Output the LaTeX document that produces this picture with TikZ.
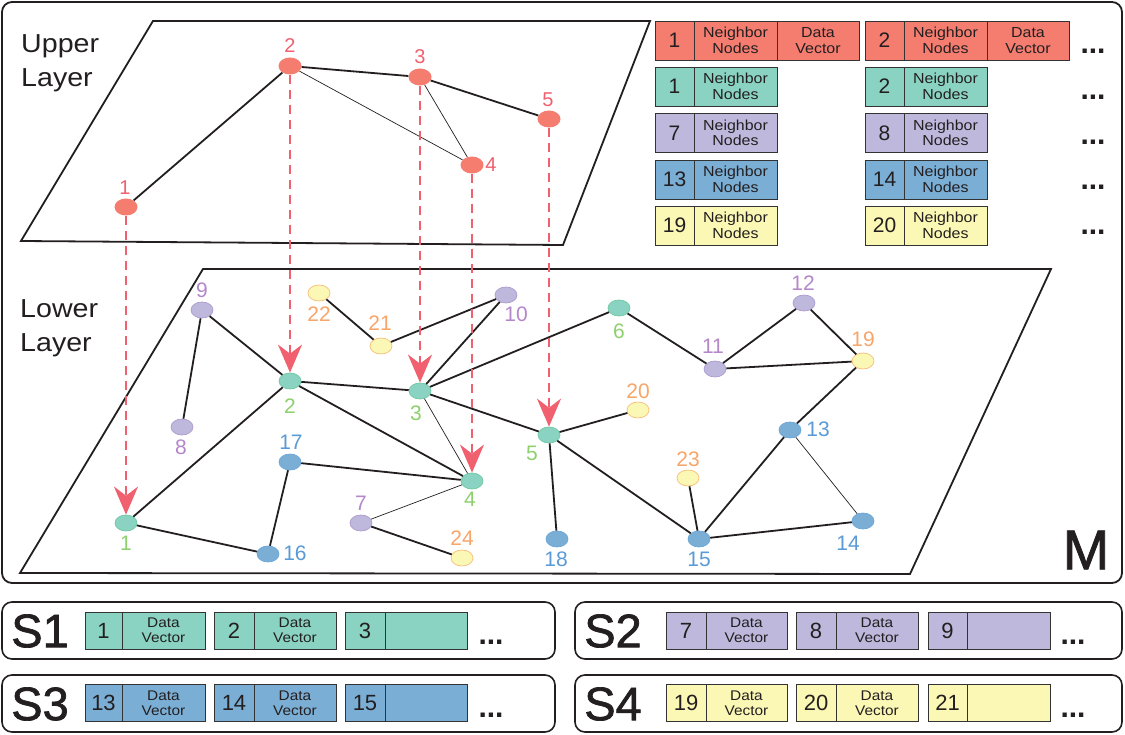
\documentclass[tikz,border=0pt]{standalone}
\usepackage{fontspec}
\setmainfont{Liberation Sans}
\newfontfamily\bigf{Liberation Sans}[FakeBold=1.5]
\newfontfamily\widef{Liberation Sans}[FakeStretch=1.1]
\usetikzlibrary{arrows.meta,shapes.geometric}
\definecolor{cred}{HTML}{F47D70}
\definecolor{cgreen}{HTML}{8AD3C2}
\definecolor{cpurple}{HTML}{BDB8DC}
\definecolor{cblue}{HTML}{7BAED5}
\definecolor{cyellow}{HTML}{FBF7B4}
\definecolor{ogreen}{HTML}{70C9A2}
\definecolor{opurple}{HTML}{AE9BCE}
\definecolor{oblue}{HTML}{6AA6D8}
\definecolor{oyellow}{HTML}{F7BE7A}
\definecolor{lgreen}{HTML}{8ED06E}
\definecolor{lpurple}{HTML}{B487C9}
\definecolor{lorange}{HTML}{F8A56A}
\definecolor{lblue}{HTML}{5A9AD6}
\definecolor{lred}{HTML}{F0606F}
\definecolor{ink}{HTML}{231F20}
\definecolor{cellline}{HTML}{333333}
\newcommand{\numfnt}{\fontsize{21}{21}\selectfont}
\newcommand{\smfnt}{\widef\fontsize{14.5}{15.5}\selectfont}
\newcommand{\snumfnt}{\fontsize{22}{22}\selectfont}
\newcommand{\ssmfnt}{\widef\fontsize{14}{15}\selectfont}
\tikzset{
  unode/.style={ellipse, fill=cred, minimum width=23pt, minimum height=17pt, inner sep=0pt},
  gnode/.style={ellipse, fill=cgreen, draw=ogreen, line width=0.7pt, minimum width=22pt, minimum height=16pt, inner sep=0pt},
  pnode/.style={gnode, fill=cpurple, draw=opurple},
  bnode/.style={gnode, fill=cblue, draw=oblue},
  ynode/.style={gnode, fill=cyellow, draw=oyellow},
  lbl/.style={inner sep=0pt, font=\fontsize{21}{21}\selectfont},
  ulbl/.style={inner sep=0pt, text=lred, font=\fontsize{20}{20}\selectfont},
  edge/.style={draw=ink, line width=1.8pt},
  thinedge/.style={draw=ink, line width=0.7pt},
  plane/.style={draw=ink, line width=1.8pt, line join=miter},
  proj/.style={draw=lred, line width=1.8pt, dash pattern=on 9pt off 6pt, -{Stealth[length=28pt,width=24pt,inset=9pt]}},
  cell/.style={draw=cellline, line width=0.9pt, minimum height=39pt, inner sep=0pt, text=ink, align=center},
  scell/.style={draw=cellline, line width=0.9pt, minimum height=37pt, inner sep=0pt, text=ink, align=center},
  sbox/.style={draw=ink, line width=1.6pt, rounded corners=10pt},
  dots/.style={inner sep=0pt, text=ink, font=\fontsize{30}{30}\selectfont\bfseries},
  big/.style={inner sep=0pt, text=ink, font=\bigf\fontsize{47}{47}\selectfont},
  layertxt/.style={inner sep=0pt, text=ink, align=left, font=\widef\fontsize{26}{34}\selectfont, anchor=north west}
}
\begin{document}
\begin{tikzpicture}[x=1pt,y=-1pt]
\useasboundingbox (0,0) rectangle (1125,735);
\fill[white] (0,0) rectangle (1125,735);
% outer frame
\draw[sbox, line width=1.8pt] (2,2) rectangle (1122,583);
% planes
\draw[plane] (153,21) -- (650,21) -- (563,245) -- (21,241) -- cycle;
\draw[plane] (203,269) -- (1051,269) -- (910,574) -- (20,573) -- cycle;
% layer texts
\node[layertxt] (uptxt) at (21,34) {Upper\\Layer};
\node[layertxt] (lotxt) at (20,299) {Lower\\Layer};
\node[inner sep=0pt, text=ink, font=\bigf\fontsize{56}{56}\selectfont] (M) at (1086,550) {M};

% upper nodes
\node[unode] (U1) at (126,207) {};
\node[unode] (U2) at (290,66) {};
\node[unode] (U3) at (420,77) {};
\node[unode] (U4) at (472,165) {};
\node[unode] (U5) at (549,119) {};
\node[ulbl] (u1t) at (125,188) {1};
\node[ulbl] (u2t) at (290,46) {2};
\node[ulbl] (u3t) at (420,57) {3};
\node[ulbl] (u4t) at (491,165) {4};
\node[ulbl] (u5t) at (548,100) {5};
\draw[edge] (U1) -- (U2);
\draw[edge] (U2) -- (U3);
\draw[edge] (U3) -- (U5);
\draw[thinedge] (U2) -- (U4);
\draw[thinedge] (U3) -- (U4);

% lower nodes
\node[gnode] (L1) at (126,523) {};
\node[gnode] (L2) at (290,381) {};
\node[gnode] (L3) at (420,391) {};
\node[gnode] (L4) at (472,481) {};
\node[gnode] (L5) at (549,435) {};
\node[gnode] (L6) at (619,308) {};
\node[pnode] (L7) at (361,523) {};
\node[pnode] (L8) at (182,427) {};
\node[pnode] (L9) at (202,310) {};
\node[pnode] (L10) at (506,295) {};
\node[pnode] (L11) at (715,369) {};
\node[pnode] (L12) at (804,303) {};
\node[bnode] (L13) at (790,430) {};
\node[bnode] (L14) at (863,521) {};
\node[bnode] (L15) at (699,539) {};
\node[bnode] (L16) at (268,554) {};
\node[bnode] (L17) at (290,462) {};
\node[bnode] (L18) at (557,539) {};
\node[ynode] (L19) at (863,361) {};
\node[ynode] (L20) at (638,410) {};
\node[ynode] (L21) at (381,346) {};
\node[ynode] (L22) at (319,293) {};
\node[ynode] (L23) at (688,478) {};
\node[ynode] (L24) at (462,558) {};
% lower labels
\node[lbl, text=lgreen] (t1) at (126,543) {1};
\node[lbl, text=lgreen] (t2) at (290,406) {2};
\node[lbl, text=lgreen] (t3) at (416,413) {3};
\node[lbl, text=lgreen] (t4) at (470,499) {4};
\node[lbl, text=lgreen] (t5) at (532,453) {5};
\node[lbl, text=lgreen] (t6) at (619,331) {6};
\node[lbl, text=lpurple] (t7) at (361,503) {7};
\node[lbl, text=lpurple] (t8) at (181,447) {8};
\node[lbl, text=lpurple] (t9) at (202,290) {9};
\node[lbl, text=lpurple] (t10) at (516,314) {10};
\node[lbl, text=lpurple] (t11) at (713,346) {11};
\node[lbl, text=lpurple] (t12) at (803,283) {12};
\node[lbl, text=lblue] (t13) at (818,429) {13};
\node[lbl, text=lblue] (t14) at (848,543) {14};
\node[lbl, text=lblue] (t15) at (699,559) {15};
\node[lbl, text=lblue] (t16) at (295,553) {16};
\node[lbl, text=lblue] (t17) at (291,442) {17};
\node[lbl, text=lblue] (t18) at (556,559) {18};
\node[lbl, text=lorange] (t19) at (863,339) {19};
\node[lbl, text=lorange] (t20) at (638,391) {20};
\node[lbl, text=lorange] (t21) at (380,323) {21};
\node[lbl, text=lorange] (t22) at (319,314) {22};
\node[lbl, text=lorange] (t23) at (688,459) {23};
\node[lbl, text=lorange] (t24) at (462,538) {24};
% lower edges
\foreach \a/\b in {9/8, 9/2, 22/21, 21/10, 10/3, 2/3, 2/1, 2/4, 3/6, 3/5, 17/4, 17/16, 1/16, 7/24, 5/20, 5/18, 5/15, 6/11, 11/12, 11/19, 12/19, 19/13, 13/15, 23/15, 15/14}
  \draw[edge] (L\a) -- (L\b);
\foreach \a/\b in {3/4, 7/4, 13/14}
  \draw[thinedge] (L\a) -- (L\b);
% projections
\foreach \i in {1,...,5}
  \draw[proj] (U\i) -- (L\i);

% table
\node[cell, fill=cred, minimum width=39pt, font=\numfnt] (r0a) at (674.5,40.5) {1};
\node[cell, fill=cred, minimum width=83pt, font=\smfnt] (r0b) at (735.5,40.5) {Neighbor\\Nodes};
\node[cell, fill=cred, minimum width=82pt, font=\smfnt] (r0c) at (818,40.5) {Data\\Vector};
\node[cell, fill=cred, minimum width=39pt, font=\numfnt] (s0a) at (884.5,40.5) {2};
\node[cell, fill=cred, minimum width=83pt, font=\smfnt] (s0b) at (945.5,40.5) {Neighbor\\Nodes};
\node[cell, fill=cred, minimum width=82pt, font=\smfnt] (s0c) at (1028,40.5) {Data\\Vector};
\node[dots] (d0) at (1093,51) {...};
\foreach \y/\c/\a/\b/\dy [count=\i] in {86.5/cgreen/1/2/97, 133/cpurple/7/8/142, 179.5/cblue/13/14/187, 225.5/cyellow/19/20/232} {
  \node[cell, fill=\c, minimum width=39pt, font=\numfnt] (r\i a) at (674.5,\y) {\a};
  \node[cell, fill=\c, minimum width=83pt, font=\smfnt] (r\i b) at (735.5,\y) {Neighbor\\Nodes};
  \node[cell, fill=\c, minimum width=39pt, font=\numfnt] (s\i a) at (884.5,\y) {\b};
  \node[cell, fill=\c, minimum width=83pt, font=\smfnt] (s\i b) at (945.5,\y) {Neighbor\\Nodes};
  \node[dots] (d\i) at (1093,\dy) {...};
}

% S boxes
\draw[sbox] (2,602) rectangle (555,659);
\draw[sbox] (2,675) rectangle (555,732);
\draw[sbox] (575,602) rectangle (1122,659);
\draw[sbox] (575,675) rectangle (1122,732);
\node[big] (S1) at (40,631) {S1};
\node[big] (S3) at (40,704) {S3};
\node[big] (S2) at (613,631) {S2};
\node[big] (S4) at (613,704) {S4};
\foreach \y/\dy/\c/\p/\q/\r/\sn in {630.5/642/cgreen/1/2/3/A, 703/715/cblue/13/14/15/B} {
  \node[scell, fill=\c, minimum width=37pt, font=\snumfnt] (\sn1a) at (103.5,\y) {\p};
  \node[scell, fill=\c, minimum width=83pt, font=\ssmfnt] (\sn1b) at (163.5,\y) {Data\\Vector};
  \node[scell, fill=\c, minimum width=40pt, font=\snumfnt] (\sn2a) at (234,\y) {\q};
  \node[scell, fill=\c, minimum width=82pt, font=\ssmfnt] (\sn2b) at (295,\y) {Data\\Vector};
  \node[scell, fill=\c, minimum width=40pt, font=\snumfnt] (\sn3a) at (365,\y) {\r};
  \node[scell, fill=\c, minimum width=82pt] (\sn3b) at (426,\y) {};
  \node[dots] (\sn dd) at (491,\dy) {...};
}
\foreach \y/\dy/\c/\p/\q/\r/\sn in {630.5/642/cpurple/7/8/9/C, 703/715/cyellow/19/20/21/D} {
  \node[scell, fill=\c, minimum width=40pt, font=\snumfnt] (\sn1a) at (686,\y) {\p};
  \node[scell, fill=\c, minimum width=81pt, font=\ssmfnt] (\sn1b) at (746.5,\y) {Data\\Vector};
  \node[scell, fill=\c, minimum width=40pt, font=\snumfnt] (\sn2a) at (816,\y) {\q};
  \node[scell, fill=\c, minimum width=82pt, font=\ssmfnt] (\sn2b) at (877,\y) {Data\\Vector};
  \node[scell, fill=\c, minimum width=39pt, font=\snumfnt] (\sn3a) at (947.5,\y) {\r};
  \node[scell, fill=\c, minimum width=83pt] (\sn3b) at (1008.5,\y) {};
  \node[dots] (\sn dd) at (1073,\dy) {...};
}
\end{tikzpicture}
\end{document}
